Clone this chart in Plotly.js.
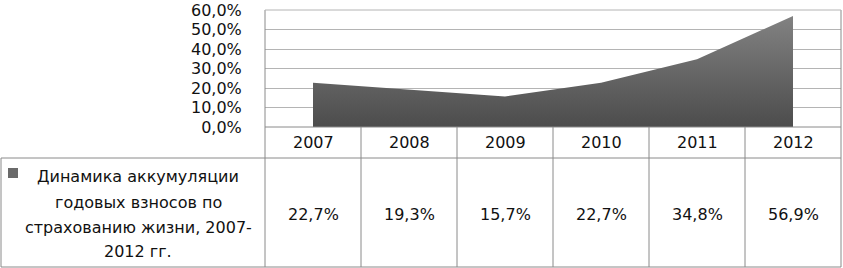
<!DOCTYPE html>
<html>
<head>
<meta charset="utf-8">
<script src="https://cdn.plot.ly/plotly-3.0.1.min.js"></script>
<style>html,body{margin:0;padding:0;background:#fff;}#chart{width:843px;height:268px;}</style>
</head>
<body>
<div id="chart"></div>
<script>
// ---- data ----
var years = ['2007', '2008', '2009', '2010', '2011', '2012'];
var values = [22.7, 19.3, 15.7, 22.7, 34.8, 56.9];
var valueLabels = ['22,7%', '19,3%', '15,7%', '22,7%', '34,8%', '56,9%'];
var yTickVals = [0, 10, 20, 30, 40, 50, 60];
var yTickLabels = ['0,0%', '10,0%', '20,0%', '30,0%', '40,0%', '50,0%', '60,0%'];
var seriesNameLines = ['Динамика аккумуляции', 'годовых взносов по', 'страхованию жизни, 2007-', '2012 гг.'];

// ---- layout geometry (pixels) ----
var W = 843, H = 268;
var ml = 265, mr = 2, mt = 10, plotBottom = 127;
var plotH = plotBottom - mt;
var plotW = W - ml - mr;
var headerBottom = 158, tableBottom = 267, tableLeft = 1;
function py(pix) { return (plotBottom - pix) / plotH; }
function px(pix) { return (pix - ml) / plotW; }

var FONT = 'DejaVu Sans, Open Sans, sans-serif';
var FS = 16;
var TXT = '#111';
var LINE = '#8a8a8a';
var GRID = '#b4b4b4';

function buildTrace(useGradient) {
  var t = {
    type: 'scatter',
    mode: 'lines',
    x: years,
    y: values,
    fill: 'tozeroy',
    fillcolor: '#606060',
    line: {width: 0, color: '#606060'},
    hoverinfo: 'skip',
    showlegend: false
  };
  if (useGradient) {
    t.fillgradient = {type: 'vertical', colorscale: [[0, '#4c4c4c'], [1, '#828282']]};
  }
  return t;
}

function buildLayout(seps) {
  var shapes = [];
  var annotations = [];
  var n = years.length;
  for (var k = 0; k <= n; k++) {
    var xx = k / n;
    var top = (k === 0 || k === n) ? 1 : 0;
    shapes.push({type: 'line', xref: 'paper', yref: 'paper', x0: xx, x1: xx,
      y0: top, y1: py(tableBottom), line: {color: LINE, width: 1}});
  }
  // top gridline (edge gridlines are dropped by plotly)
  shapes.push({type: 'line', xref: 'paper', yref: 'paper', x0: 0, x1: 1, y0: 1, y1: 1,
    line: {color: GRID, width: 1}});
  shapes.push({type: 'line', xref: 'paper', yref: 'paper', x0: 0, x1: 1, y0: 0, y1: 0,
    line: {color: LINE, width: 1}});
  shapes.push({type: 'line', xref: 'paper', yref: 'paper', x0: px(tableLeft), x1: 1,
    y0: py(headerBottom), y1: py(headerBottom), line: {color: LINE, width: 1}});
  shapes.push({type: 'line', xref: 'paper', yref: 'paper', x0: px(tableLeft), x1: 1,
    y0: py(tableBottom), y1: py(tableBottom), line: {color: LINE, width: 1}});
  shapes.push({type: 'line', xref: 'paper', yref: 'paper', x0: px(tableLeft), x1: px(tableLeft),
    y0: py(headerBottom), y1: py(tableBottom), line: {color: LINE, width: 1}});
  shapes.push({type: 'rect', xref: 'paper', yref: 'paper', x0: px(8), x1: px(18),
    y0: py(168), y1: py(178), fillcolor: '#6a6a6a', line: {width: 0}});

  for (var i = 0; i < n; i++) {
    annotations.push({xref: 'x', yref: 'paper', x: i, y: py(142.5), text: years[i],
      showarrow: false, xanchor: 'center', yanchor: 'middle', font: {family: FONT, size: FS, color: TXT}});
    annotations.push({xref: 'x', yref: 'paper', x: i, y: py(214.5), text: valueLabels[i],
      showarrow: false, xanchor: 'center', yanchor: 'middle', font: {family: FONT, size: FS, color: TXT}});
  }
  var lineY = [176.5, 202, 227, 252];
  for (var j = 0; j < seriesNameLines.length; j++) {
    annotations.push({xref: 'paper', yref: 'paper', x: px(138), y: py(lineY[j]), text: seriesNameLines[j],
      showarrow: false, xanchor: 'center', yanchor: 'middle', font: {family: FONT, size: FS, color: TXT}});
  }

  var layout = {
    width: W, height: H,
    margin: {l: ml, r: mr, t: mt, b: H - plotBottom, pad: 0},
    paper_bgcolor: '#fff', plot_bgcolor: '#fff',
    showlegend: false,
    font: {family: FONT, size: FS, color: TXT},
    xaxis: {type: 'category', range: [-0.5, n - 0.5], showgrid: false, showticklabels: false,
      zeroline: false, showline: false, ticks: ''},
    yaxis: {range: [yTickVals[0], yTickVals[yTickVals.length - 1]], tickmode: 'array',
      tickvals: yTickVals, ticktext: yTickLabels, showgrid: true,
      gridcolor: GRID, gridwidth: 1, zeroline: false, showline: false,
      ticks: 'outside', ticklen: 19, tickcolor: 'rgba(0,0,0,0)',
      ticklabeloverflow: 'allow',
      tickfont: {family: FONT, size: FS, color: TXT}},
    shapes: shapes,
    annotations: annotations
  };
  if (seps) layout.separators = seps;
  return layout;
}

var attempts = [
  [true, ', '],
  [false, ', '],
  [false, null]
];
function tryPlot(idx) {
  if (idx >= attempts.length) return;
  var a = attempts[idx];
  try {
    Plotly.purge('chart');
    var p = Plotly.newPlot('chart', [buildTrace(a[0])], buildLayout(a[1]), {displayModeBar: false, staticPlot: true});
    if (p && p.catch) p.catch(function () { tryPlot(idx + 1); });
  } catch (e) {
    tryPlot(idx + 1);
  }
}
tryPlot(0);
</script>
</body>
</html>
